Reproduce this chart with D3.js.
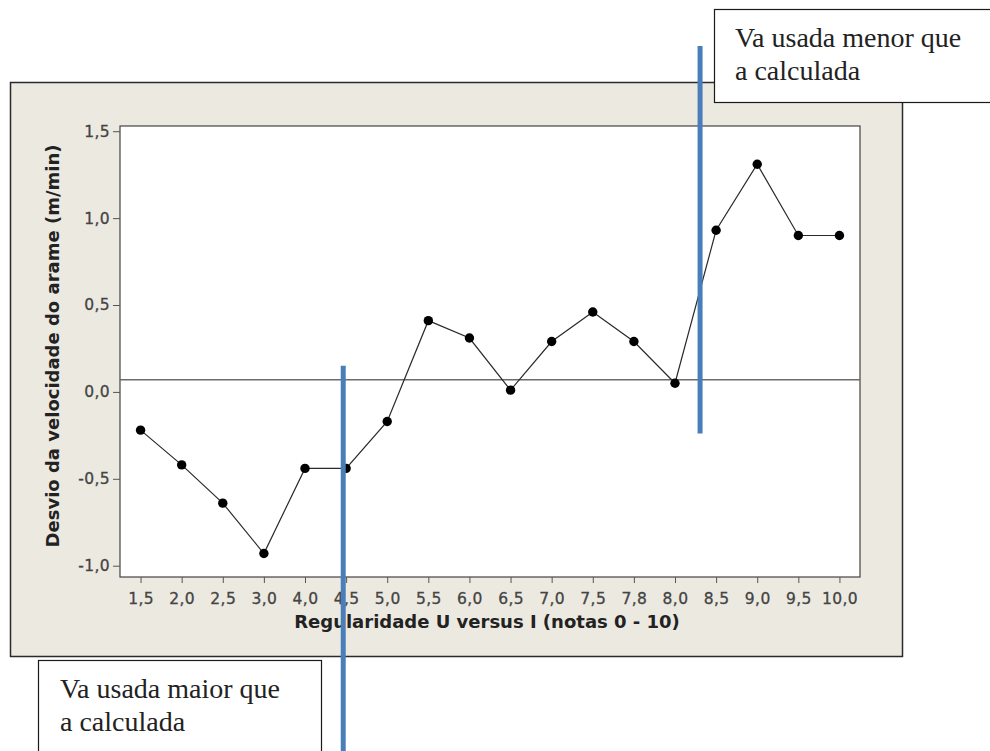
<!DOCTYPE html>
<html lang="pt">
<head>
  <meta charset="UTF-8">
  <title>Desvio da velocidade do arame</title>
  <script src="https://cdn.jsdelivr.net/npm/d3@7/dist/d3.min.js"></script>
  <style>
    html, body { margin: 0; padding: 0; background: #fff; }
    #chart { display: block; }
    .tick text { font-family: "DejaVu Sans", Verdana, sans-serif; font-size: 15.5px; fill: #444; stroke: #444; stroke-width: 0.3px; letter-spacing: 0.4px; }
    .tick line { stroke: #555; }
    .axis-title { font-family: "DejaVu Sans", Verdana, sans-serif; font-size: 18px; font-weight: bold; fill: #222; }
    .note { font-family: "Liberation Serif", "Times New Roman", serif; font-size: 28px; fill: #222; }
  </style>
</head>
<body>
  <svg id="chart" width="990" height="751"></svg>
  <script>
    // categorias do eixo x (notas)
    const categories = ['1,5', '2,0', '2,5', '3,0', '4,0', '4,5', '5,0', '5,5', '6,0',
      '6,5', '7,0', '7,5', '7,8', '8,0', '8,5', '9,0', '9,5', '10,0']
    // desvio da velocidade do arame (m/min)
    const desvio = [-0.22, -0.42, -0.64, -0.93, -0.44, -0.44, -0.17, 0.41, 0.31,
      0.01, 0.29, 0.46, 0.29, 0.05, 0.93, 1.31, 0.90, 0.90]
    const yTicks = [-1.0, -0.5, 0.0, 0.5, 1.0, 1.5]
    const refLine = 0.07
    // linhas azuis: posicao em indice de categoria, topo e base em m/min
    const markerAt = [4.93, 13.61]
    const markerTop = [0.15, 1.99]
    const markerBottom = [-2.2, -0.24]
    const notes = [
      ['Va usada menor que', 'a calculada'],
      ['Va usada maior que', 'a calculada']
    ]

    const svg = d3.select('#chart')
    const plot = { left: 120, right: 860, top: 126, bottom: 577 }

    const x = d3.scalePoint()
      .domain(categories)
      .range([plot.left, plot.right])
      .padding(0.5)
    const xi = d3.scaleLinear()
      .domain([0, categories.length - 1])
      .range([x(categories[0]), x(categories[categories.length - 1])])
    const y = d3.scaleLinear()
      .domain([-1.065, 1.53])
      .range([plot.bottom, plot.top])

    const fmt = d => d3.format('.1f')(d).replace('.', ',').replace('−', '-')

    // moldura bege
    svg.append('rect')
      .attr('x', 10.5).attr('y', 82.5)
      .attr('width', 892).attr('height', 574)
      .attr('fill', '#ece9e1')
      .attr('stroke', '#2b2b2b')
      .attr('stroke-width', 1.5)

    svg.append('rect')
      .attr('x', plot.left).attr('y', plot.top)
      .attr('width', plot.right - plot.left).attr('height', plot.bottom - plot.top)
      .attr('fill', '#fff')
      .attr('stroke', '#444')
      .attr('stroke-width', 1.2)

    svg.append('g')
      .attr('transform', `translate(${plot.left},0)`)
      .call(d3.axisLeft(y).tickValues(yTicks).tickFormat(fmt).tickSize(7).tickPadding(3).tickSizeOuter(0))
      .call(g => g.select('.domain').remove())

    svg.append('g')
      .attr('transform', `translate(0,${plot.bottom})`)
      .call(d3.axisBottom(x).tickSize(6).tickPadding(10).tickSizeOuter(0))
      .call(g => g.select('.domain').remove())

    svg.append('text')
      .attr('class', 'axis-title')
      .attr('x', (plot.left + plot.right) / 2 - 3)
      .attr('y', 628)
      .attr('text-anchor', 'middle')
      .text('Regularidade U versus I (notas 0 - 10)')

    svg.append('text')
      .attr('class', 'axis-title')
      .attr('transform', 'translate(59,346) rotate(-90)')
      .attr('text-anchor', 'middle')
      .text('Desvio da velocidade do arame (m/min)')

    // linha de referencia
    svg.append('line')
      .attr('x1', plot.left).attr('x2', plot.right)
      .attr('y1', y(refLine)).attr('y2', y(refLine))
      .attr('stroke', '#6b6b6b')
      .attr('stroke-width', 1.5)

    const line = d3.line()
      .x((d, i) => x(categories[i]))
      .y(d => y(d))
    svg.append('path')
      .datum(desvio)
      .attr('d', line)
      .attr('fill', 'none')
      .attr('stroke', '#2a2a2a')
      .attr('stroke-width', 1.2)

    svg.append('g')
      .selectAll('circle')
      .data(desvio)
      .join('circle')
      .attr('cx', (d, i) => x(categories[i]))
      .attr('cy', d => y(d))
      .attr('r', 4.7)
      .attr('fill', '#000')

    // caixas de texto
    const boxes = [
      { x: 714.5, y: 9.5, w: 290, h: 93, tx: 735, ty: 47 },
      { x: 38.5, y: 660.5, w: 283, h: 110, tx: 60, ty: 698 }
    ]
    boxes.forEach((b, k) => {
      svg.append('rect')
        .attr('x', b.x).attr('y', b.y)
        .attr('width', b.w).attr('height', b.h)
        .attr('fill', '#fff')
        .attr('stroke', '#1a1a1a')
        .attr('stroke-width', 1.2)
      notes[k].forEach((t, j) => {
        svg.append('text')
          .attr('class', 'note')
          .attr('x', b.tx)
          .attr('y', b.ty + j * 33)
          .text(t)
      })
    })

    // linhas azuis
    svg.append('g')
      .selectAll('line')
      .data(markerAt)
      .join('line')
      .attr('x1', d => xi(d)).attr('x2', d => xi(d))
      .attr('y1', (d, i) => y(markerTop[i]))
      .attr('y2', (d, i) => y(markerBottom[i]))
      .attr('stroke', '#4a7ebb')
      .attr('stroke-width', 5)
  </script>
</body>
</html>
